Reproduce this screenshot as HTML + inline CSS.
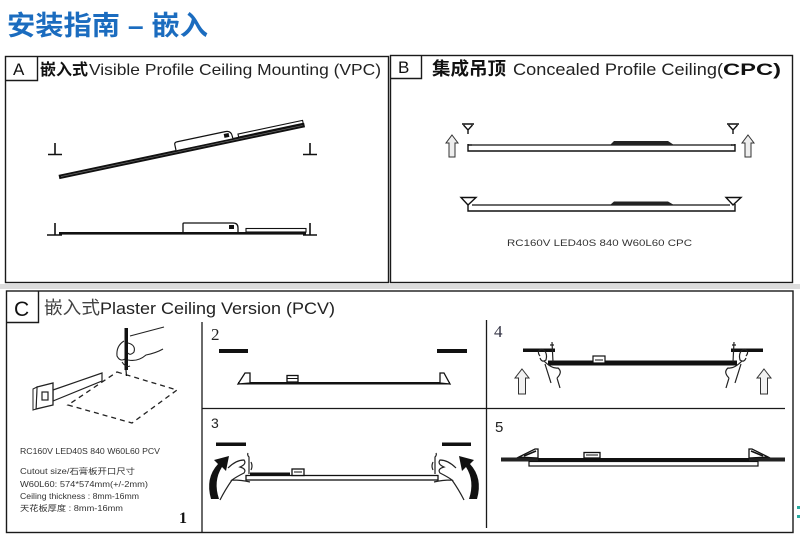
<!DOCTYPE html>
<html><head><meta charset="utf-8"><style>
html,body{margin:0;padding:0;background:#fff;width:800px;height:536px;overflow:hidden}
svg{display:block}
text{font-family:"Liberation Sans","Noto Sans CJK SC",sans-serif}
text.serif{font-family:"Liberation Serif",serif}
</style></head><body>
<svg width="800" height="536" viewBox="0 0 800 536" xmlns="http://www.w3.org/2000/svg">
<rect width="800" height="536" fill="#fff"/>
<!-- Title -->
<text x="7" y="35" font-size="27" font-weight="bold" fill="#1b6cbf" textLength="201" lengthAdjust="spacingAndGlyphs">安装指南 – 嵌入</text>

<rect x="0" y="284" width="800" height="5" fill="#dcdcdc"/>

<!-- Box A -->
<g fill="none" stroke="#1a1a1a" stroke-width="1.4">
<rect x="5.5" y="56.5" width="383" height="226"/>
<path d="M37.5,56.5 V80.5 H5.5"/>
</g>
<text x="13" y="75" font-size="17" fill="#111">A</text>
<text x="40" y="75" font-size="16" font-weight="bold" fill="#111" textLength="48" lengthAdjust="spacingAndGlyphs">嵌入式</text>
<text x="89" y="75" font-size="16" fill="#222" textLength="292" lengthAdjust="spacingAndGlyphs">Visible Profile Ceiling Mounting (VPC)</text>

<!-- A drawings -->
<g stroke="#111" stroke-width="1.6" fill="none">
<path d="M55,143 V154 M48,154.5 H62"/>
<path d="M310,143 V154 M303,154.5 H317"/>
</g>
<g transform="translate(59,177) rotate(-11.94)">
<rect x="0" y="-2.2" width="251" height="4.4" fill="#111"/>
<line x1="2" y1="0" x2="249" y2="0" stroke="#777" stroke-width="0.6"/>
<path d="M120,-2 V-8 Q120,-10 123,-10 H172 Q178,-10 178,-4 V-2" fill="#fff" stroke="#111" stroke-width="1.2"/>
<rect x="170" y="-8" width="5" height="4" fill="#111"/>
<rect x="184" y="-5" width="66" height="3" fill="#fff" stroke="#111" stroke-width="1.1"/>
</g>
<g stroke="#111" fill="none">
<rect x="59" y="232" width="247" height="2.6" fill="#111" stroke="none"/>
<path d="M55,223 V234.5 M47,235 H62" stroke-width="1.6"/>
<path d="M310,223 V234.5 M303,235 H317" stroke-width="1.6"/>
<path d="M183,232 V224 Q183,223 184,223 H233 Q238,223 238,228 V232" fill="#fff" stroke-width="1.3"/>
<rect x="229" y="225" width="5" height="4" fill="#111" stroke="none"/>
<rect x="246" y="228.5" width="60" height="3.5" fill="#fff" stroke-width="1.1"/>
</g>

<!-- Box B -->
<g fill="none" stroke="#1a1a1a" stroke-width="1.4">
<rect x="390.5" y="55.5" width="402" height="227"/>
<path d="M421.5,55.5 V78.5 H390.5"/>
</g>
<text x="398" y="73" font-size="17" fill="#111">B</text>
<text x="432" y="75" font-size="18" font-weight="bold" fill="#111" textLength="74" lengthAdjust="spacingAndGlyphs">集成吊顶</text>
<text x="513" y="75" font-size="17" fill="#222" textLength="210" lengthAdjust="spacingAndGlyphs">Concealed Profile Ceiling(</text>
<text x="723" y="75" font-size="17" font-weight="bold" fill="#111" textLength="58" lengthAdjust="spacingAndGlyphs">CPC)</text>

<!-- B drawings row 1 -->
<g stroke="#333" stroke-width="1" fill="#eee">
<path d="M452,135 L458,143 L455,143 L455,157 L449,157 L449,143 L446,143 Z"/>
<path d="M748,135 L754,143 L751,143 L751,157 L745,157 L745,143 L742,143 Z"/>
</g>
<g stroke="#111" stroke-width="1.4" fill="none">
<path d="M462,124 H474 M463.5,125 L468,130 L472.5,125 M468,130 V134"/>
<path d="M727,124 H739 M728.5,125 L733,130 L737.5,125 M733,130 V134"/>
<path d="M468,144 V151 H735 V144"/>
<path d="M472,145 H732" stroke-width="1.2"/>
<path d="M468,145 H472 M731,145 H735"/>
</g>
<path d="M610,145 L614,141 H668 L674,145 Z" fill="#222"/>
<!-- row 2 -->
<g stroke="#111" stroke-width="1.4" fill="none">
<path d="M461,197.5 H476 L468,205 Z" fill="#fff"/>
<path d="M726,197.5 H741 L733,205 Z" fill="#fff"/>
<path d="M468,204 V211 H735 V204"/>
<path d="M472,205 H730" stroke-width="1.2"/>
</g>
<path d="M610,205 L614,201.5 H668 L674,205 Z" fill="#222"/>
<text x="507" y="246" font-size="9" fill="#333" textLength="185" lengthAdjust="spacingAndGlyphs">RC160V LED40S 840 W60L60 CPC</text>

<!-- Box C -->
<g fill="none" stroke="#1a1a1a" stroke-width="1.4">
<rect x="6.5" y="291" width="786.5" height="241.5"/>
<path d="M38.5,291 V322.5 H6.5"/>
</g>
<g stroke="#1a1a1a" stroke-width="1.3">
<line x1="202" y1="322" x2="202" y2="532"/>
<line x1="486.5" y1="320" x2="486.5" y2="528"/>
<line x1="202" y1="408.5" x2="785" y2="408.5"/>
</g>
<text x="14" y="316" font-size="21" fill="#111">C</text>
<text x="44" y="314" font-size="18" fill="#444" textLength="56" lengthAdjust="spacingAndGlyphs">嵌入式</text>
<text x="100" y="314" font-size="17" fill="#222" textLength="235" lengthAdjust="spacingAndGlyphs">Plaster Ceiling Version (PCV)</text>

<!-- Panel 1 -->
<path d="M117,372 L177,390 L132,423 L68,405 Z" fill="none" stroke="#222" stroke-width="1.3" stroke-dasharray="5,4"/>
<path d="M53,390 L102,373 L102,381 L53,401 Z" fill="#fff" stroke="#222" stroke-width="1.2"/>
<path d="M37,387 L53,383 L53,405 L36,409 Z" fill="#fff" stroke="#222" stroke-width="1.3"/>
<path d="M33,389 L37,387 L36,409 L33,410 Z" fill="#fff" stroke="#222" stroke-width="1"/>
<rect x="42" y="392" width="6" height="8" fill="none" stroke="#222" stroke-width="1.2"/>
<rect x="124.5" y="328" width="3.5" height="42" fill="#111"/>
<path d="M126,370 L126.5,376" stroke="#111" stroke-width="1.2"/>
<g fill="none" stroke="#222" stroke-width="1.1">
<path d="M130,336 Q145,332 164,327"/>
<path d="M124,341 Q116,346 117,356 Q120,362 125,359"/>
<path d="M128,343 Q136,345 134,352 Q130,356 128,353"/>
<path d="M128,360 Q138,362 146,355 Q156,353 163,349"/>
<path d="M122,362 Q126,368 130,366"/>
</g>
<g fill="#333">
<text x="20" y="454" font-size="8" textLength="140" lengthAdjust="spacingAndGlyphs">RC160V LED40S 840 W60L60 PCV</text>
<text x="20" y="474" font-size="8" textLength="115" lengthAdjust="spacingAndGlyphs">Cutout size/石膏板开口尺寸</text>
<text x="20" y="487" font-size="8" textLength="128" lengthAdjust="spacingAndGlyphs">W60L60:  574*574mm(+/-2mm)</text>
<text x="20" y="499" font-size="8" textLength="119" lengthAdjust="spacingAndGlyphs">Ceiling thickness : 8mm-16mm</text>
<text x="20" y="511" font-size="8" textLength="103" lengthAdjust="spacingAndGlyphs">天花板厚度 : 8mm-16mm</text>
</g>
<text class="serif" x="179" y="523" font-size="16" font-weight="bold" fill="#111">1</text>

<!-- Panel 2 -->
<text class="serif" x="211" y="340" font-size="17" fill="#222">2</text>
<rect x="219" y="349" width="29" height="4" fill="#111"/>
<rect x="437" y="349" width="30" height="4" fill="#111"/>
<rect x="238" y="382" width="212" height="2.5" fill="#111"/>
<path d="M238,384 L245,373 L250,373 L250,383 Z M440,383 L440,373 L444,373 L450,384 Z" fill="#fff" stroke="#111" stroke-width="1.3"/>
<rect x="287" y="375.5" width="11" height="6.5" fill="#fff" stroke="#111" stroke-width="1.3"/>
<line x1="287" y1="378.5" x2="298" y2="378.5" stroke="#111" stroke-width="1"/>

<!-- Panel 4 -->
<text class="serif" x="494" y="337" font-size="17" fill="#334">4</text>
<rect x="523" y="348.5" width="32" height="3.5" fill="#111"/>
<rect x="731" y="348.5" width="32" height="3.5" fill="#111"/>
<rect x="548" y="360.5" width="189" height="5" fill="#111"/>
<rect x="593" y="356" width="12" height="7" fill="#fff" stroke="#111" stroke-width="1.2"/>
<line x1="595" y1="360" x2="603" y2="360" stroke="#111" stroke-width="1"/>
<g stroke="#222" stroke-width="1.2" fill="none">
<path d="M552,342 L553,362 M550,345 L554,345"/>
<path d="M540,356 Q536,351 542,349 Q548,352 546,360 Q542,363 540,358"/>
<path d="M544,361 Q552,369 558,368 Q563,372 557,378 M545,364 L551,383 M557,378 L560,388"/>
<path d="M734,342 L733,362 M732,345 L736,345"/>
<path d="M746,356 Q750,351 744,349 Q738,352 740,360 Q744,363 746,358"/>
<path d="M742,361 Q734,369 728,368 Q723,372 729,378 M741,364 L735,383 M729,378 L726,388"/>
</g>
<g stroke="#333" stroke-width="1" fill="#f2f2f2">
<path d="M522,369 L529,378 L525.5,378 L525.5,394 L518.5,394 L518.5,378 L515,378 Z"/>
<path d="M764,369 L771,378 L767.5,378 L767.5,394 L760.5,394 L760.5,378 L757,378 Z"/>
</g>

<!-- Panel 3 -->
<text x="211" y="428" font-size="14" fill="#222">3</text>
<rect x="216" y="442.5" width="30" height="3.5" fill="#111"/>
<rect x="442" y="442.5" width="29" height="3.5" fill="#111"/>
<rect x="246" y="475.5" width="192" height="4.5" fill="#fff" stroke="#111" stroke-width="1.3"/>
<rect x="250" y="472.5" width="40" height="3" fill="#111"/>
<rect x="292" y="469" width="12" height="6.5" fill="#fff" stroke="#111" stroke-width="1.3"/>
<line x1="294" y1="472" x2="302" y2="472" stroke="#111"/>
<g stroke="#222" stroke-width="1.2" fill="none">
<path d="M249,474 V457 Q247,455 248,453 M251,462 Q253,466 251,470"/>
<path d="M435,474 V457 Q437,455 436,453 M433,462 Q431,466 433,470"/>
<path d="M228,468 Q236,460 244,460 Q247,464 240,467 Q247,469 244,473 Q236,477 232,480 Q242,480 250,482 M232,480 Q225,490 220,500"/>
<path d="M456,468 Q448,460 440,460 Q437,464 444,467 Q437,469 440,473 Q448,477 452,480 Q442,480 434,482 M452,480 Q459,490 464,500"/>
</g>
<path d="M211,499 Q205,478 218,464 L214,460 L229,456 L226,471 L222,467 Q213,481 219,499 Z" fill="#111"/>
<path d="M477,499 Q483,478 470,464 L474,460 L459,456 L462,471 L466,467 Q475,481 469,499 Z" fill="#111"/>

<!-- Panel 5 -->
<text x="495" y="432" font-size="15" fill="#222">5</text>
<rect x="501" y="457.5" width="37" height="4" fill="#222"/>
<rect x="749" y="457.5" width="36" height="4" fill="#222"/>
<rect x="538" y="458" width="211" height="3" fill="#111"/>
<rect x="529" y="461.5" width="229" height="4.5" fill="#fff" stroke="#111" stroke-width="1.2"/>
<path d="M519,457 L535,449 L538,449 L538,458 Z" fill="#fff" stroke="#111" stroke-width="1.3"/>
<path d="M768,457 L752,449 L749,449 L749,458 Z" fill="#fff" stroke="#111" stroke-width="1.3"/>
<path d="M524,456 L536,451 M763,456 L751,451" stroke="#111" stroke-width="1.5"/>
<rect x="584" y="452.5" width="16" height="5.5" fill="#fff" stroke="#111" stroke-width="1.3"/>
<line x1="586" y1="455" x2="598" y2="455" stroke="#111"/>

<rect x="797" y="506" width="3" height="3" fill="#2aa9a0"/>
<rect x="797" y="515" width="3" height="3" fill="#2aa9a0"/>
</svg>
</body></html>
